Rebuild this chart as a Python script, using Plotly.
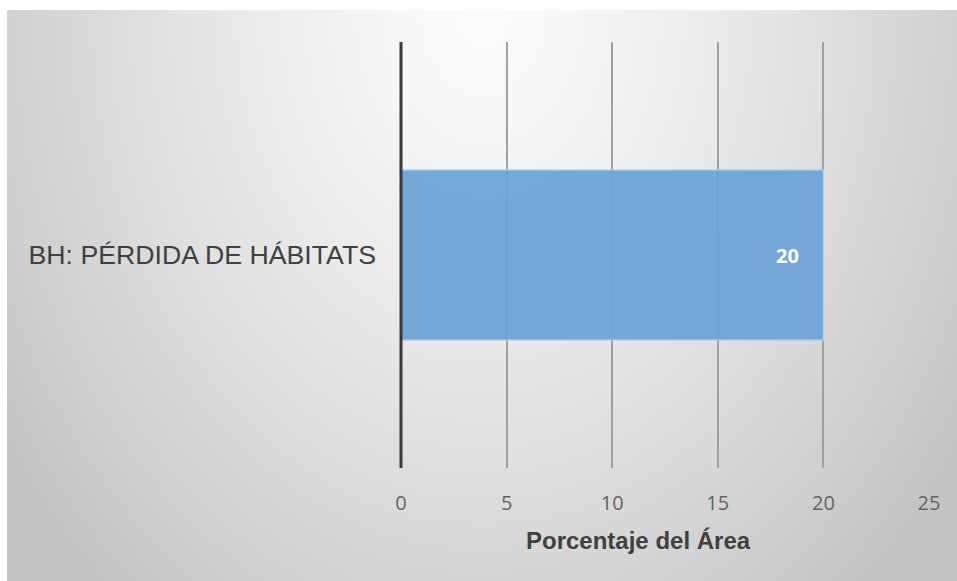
import base64
import struct
import zlib

import numpy as np
import plotly.graph_objects as go

# Data
categories = ["BH: PÉRDIDA DE HÁBITATS"]
values = [20]
tick_values = [0, 5, 10, 15, 20, 25]
axis_title = "Porcentaje del Área"

W, H = 957, 581
# plot area in pixels
PL, PR, PT, PB = 401, 929, 42, 468


def gradient_png(w, h):
    """Soft grey backdrop: near-white at the top centre fading to grey."""
    ys, xs = np.mgrid[0:h, 0:w].astype(float)
    cx, cy = 0.50 * w, 0.0
    r = np.sqrt(((xs - cx) / (0.62 * w)) ** 2 + ((ys - cy) / (1.35 * h)) ** 2)
    v = 252 - 56 * r ** 1.3
    v = np.clip(v, 196, 252).astype(np.uint8)
    rgb = np.repeat(v[:, :, None], 3, axis=2)
    raw = b"".join(b"\x00" + rgb[i].tobytes() for i in range(h))

    def chunk(tag, data):
        c = struct.pack(">I", len(data)) + tag + data
        return c + struct.pack(">I", zlib.crc32(tag + data) & 0xFFFFFFFF)

    png = b"\x89PNG\r\n\x1a\n"
    png += chunk(b"IHDR", struct.pack(">IIBBBBB", w, h, 8, 2, 0, 0, 0))
    png += chunk(b"IDAT", zlib.compress(raw, 9))
    png += chunk(b"IEND", b"")
    return "data:image/png;base64," + base64.b64encode(png).decode()


bg = gradient_png(475, 286)
pw, ph = PR - PL, PB - PT

fig = go.Figure()
fig.add_trace(
    go.Bar(
        x=values,
        y=categories,
        orientation="h",
        marker=dict(
            color="rgba(106,162,215,0.93)",
            line=dict(color="rgba(190,215,240,0.9)", width=1.2),
        ),
        width=0.4,
        hoverinfo="x+y",
    )
)

for v, c in zip(values, categories):
    fig.add_annotation(
        x=v, y=c, xref="x", yref="y",
        text=f"<b>{v}</b>",
        showarrow=False,
        xanchor="right",
        xshift=-22,
        font=dict(family="Open Sans, Arial", size=20, color="white"),
    )

# Axis title, centred slightly left of the plot area
fig.add_annotation(
    x=(638 - PL) / pw, y=(PB - 540) / ph,
    xref="paper", yref="paper",
    text=f"<b>{axis_title}</b>",
    showarrow=False,
    xanchor="center", yanchor="middle",
    font=dict(family="Liberation Sans, Arial", size=24, color="#404040"),
)

fig.update_layout(
    width=W,
    height=H,
    margin=dict(l=PL, r=W - PR, t=PT, b=H - PB),
    paper_bgcolor="white",
    plot_bgcolor="rgba(0,0,0,0)",
    showlegend=False,
    bargap=0.6,
    images=[
        dict(
            source=bg,
            xref="paper", yref="paper",
            x=(7 - PL) / pw,
            y=1 + (PT - 10) / ph,
            sizex=(W - 7) / pw,
            sizey=(H - 10) / ph,
            xanchor="left", yanchor="top",
            sizing="stretch",
            layer="below",
        )
    ],
    xaxis=dict(
        range=[0, 25],
        tickvals=tick_values,
        showgrid=True,
        gridcolor="#a0a0a0",
        gridwidth=1.5,
        zeroline=False,
        showline=False,
        ticks="",
        ticklabelstandoff=21,
        tickfont=dict(family="Open Sans, Arial", size=20, color="#646464"),
        fixedrange=True,
    ),
    yaxis=dict(
        showgrid=False,
        zeroline=False,
        showline=False,
        ticks="",
        ticklabelstandoff=24,
        tickfont=dict(family="Liberation Sans, Arial", size=26.7, color="#404040"),
        fixedrange=True,
    ),
)

# Solid dark baseline at zero
fig.add_shape(
    type="line", xref="paper", yref="paper",
    x0=0, x1=0, y0=0, y1=1,
    line=dict(color="#3a3a3a", width=3),
    layer="above",
)

fig.write_html("out.html")
